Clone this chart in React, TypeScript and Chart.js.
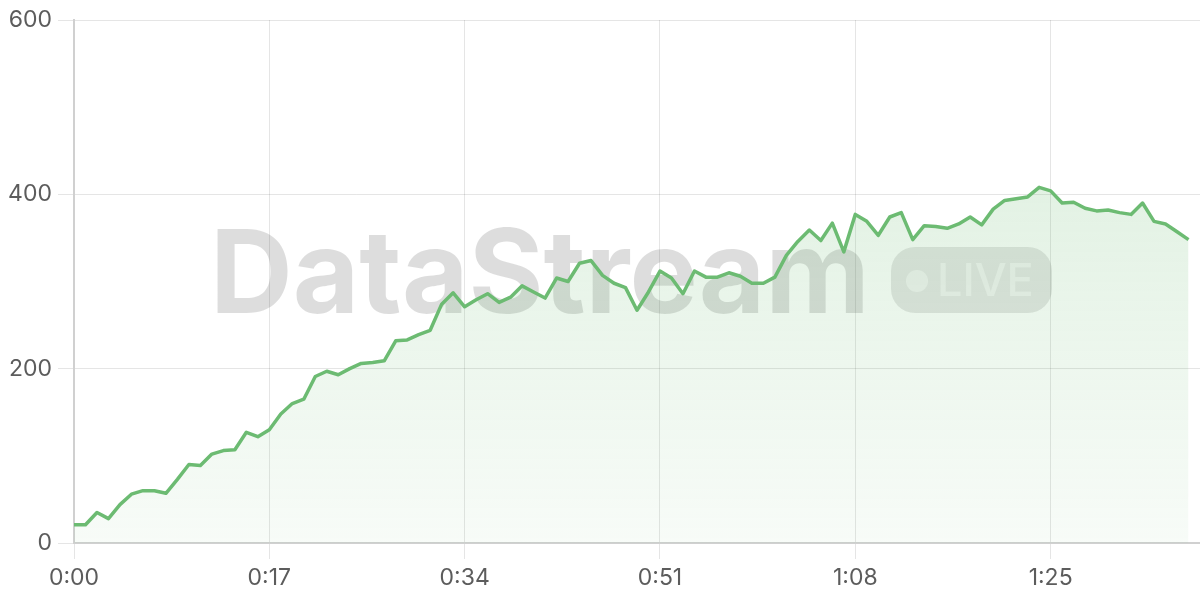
import { useEffect, useRef } from "react";
import { Chart, registerables } from "chart.js";

Chart.register(...registerables);

// one sample per second, 0:00 .. 1:37
const seconds: number[] = Array.from({ length: 98 }, (_, i) => i);
const viewers: number[] = [
  21, 21, 35, 28, 44, 56, 60, 60, 57, 73,
  90, 89, 102, 106, 107, 127, 122, 130, 148, 160,
  165, 191, 197, 193, 200, 206, 207, 209, 232, 233,
  239, 244, 274, 287, 271, 279, 286, 276, 282, 295,
  288, 281, 304, 300, 321, 324, 307, 298, 293, 267,
  288, 312, 304, 286, 312, 305, 305, 310, 306, 298,
  298, 305, 330, 346, 359, 347, 367, 334, 377, 369,
  353, 374, 379, 348, 364, 363, 361, 366, 374, 365,
  383, 393, 395, 397, 408, 404, 390, 391, 384, 381,
  382, 379, 377, 390, 369, 366, 357, 348,
];
const xTickStep = 17;
const yTicks: number[] = [0, 200, 400, 600];

const GREEN = "#6cbb72";
const FONT = "Inter, 'Open Sans', sans-serif";

const fmtTime = (s: number) => `${Math.floor(s / 60)}:${String(s % 60).padStart(2, "0")}`;

const watermark = {
  id: "watermark",
  beforeDatasetsDraw(chart: Chart) {
    const { ctx } = chart;
    ctx.save();
    // "DataStream"
    ctx.font = `700 116px ${FONT}`;
    ctx.fillStyle = "rgba(0,0,0,0.135)";
    ctx.textBaseline = "alphabetic";
    ctx.textAlign = "left";
    const text = "DataStream";
    const target = 660;
    const w0 = ctx.measureText(text).width;
    ctx.translate(210, 313);
    ctx.scale(Math.min(1, target / w0), 1);
    ctx.fillText(text, 0, 0);
    ctx.setTransform(1, 0, 0, 1, 0, 0);
    ctx.restore();
    ctx.save();
    // LIVE pill
    const x = 891, y = 247, w = 161, h = 66, r = 24;
    ctx.beginPath();
    ctx.roundRect(x, y, w, h, r);
    ctx.fillStyle = "rgba(0,0,0,0.1)";
    ctx.fill();
    ctx.fillStyle = "rgba(255,255,255,0.5)";
    ctx.beginPath();
    ctx.arc(917, 281, 11, 0, Math.PI * 2);
    ctx.fill();
    ctx.font = `500 45px ${FONT}`;
    ctx.textAlign = "left";
    ctx.fillText("LIVE", 937, 296);
    ctx.restore();
  },
};

export default function App() {
  const chartRef = useRef<HTMLCanvasElement>(null);
  const chartInstance = useRef<Chart | null>(null);

  useEffect(() => {
    if (!chartRef.current) return;
    if (chartInstance.current) chartInstance.current.destroy();
    const ctx = chartRef.current.getContext("2d");
    if (!ctx) return;

    chartInstance.current = new Chart(ctx, {
      type: "line",
      data: {
        datasets: [{
          data: seconds.map((s, i) => ({ x: s, y: viewers[i] })),
          borderColor: GREEN,
          borderWidth: 3.5,
          pointRadius: 0,
          tension: 0,
          borderJoinStyle: "round",
          fill: "origin",
          backgroundColor: (c: any) => {
            const area = c.chart.chartArea;
            if (!area) return "rgba(108,187,114,0.15)";
            const g = c.chart.ctx.createLinearGradient(0, area.top, 0, area.bottom);
            g.addColorStop(0, "rgba(108,187,114,0.26)");
            g.addColorStop(1, "rgba(108,187,114,0.05)");
            return g;
          },
        }],
      },
      options: {
        animation: false,
        responsive: true,
        maintainAspectRatio: false,
        layout: { padding: { top: 20, right: 0, bottom: 0, left: 0 } },
        plugins: { legend: { display: false }, tooltip: { enabled: false } },
        scales: {
          x: {
            type: "linear",
            min: 0,
            max: 98,
            grid: { color: "rgba(0,0,0,0.1)", tickLength: 16 },
            border: { color: "#d0d0d0", width: 2 },
            afterBuildTicks: (scale: any) => {
              scale.ticks = scale.ticks.filter((t: any) => t.value % xTickStep === 0);
            },
            afterFit: (scale: any) => { scale.height = 57; },
            ticks: {
              stepSize: xTickStep,
              autoSkip: false,
              maxRotation: 0,
              padding: 5,
              color: "#5c5c5c",
              font: { family: FONT, size: 23 },
              callback: (v: any) => fmtTime(Number(v)),
            },
          },
          y: {
            min: 0,
            max: 600,
            grid: { color: "rgba(0,0,0,0.1)", tickLength: 16 },
            border: { color: "#d0d0d0", width: 2 },
            afterBuildTicks: (scale: any) => {
              scale.ticks = yTicks.map((v) => ({ value: v }));
            },
            afterFit: (scale: any) => { scale.width = 74; },
            ticks: {
              padding: 6,
              color: "#5c5c5c",
              font: { family: FONT, size: 23 },
            },
          },
        },
      },
      plugins: [watermark],
    });

    return () => {
      if (chartInstance.current) {
        chartInstance.current.destroy();
        chartInstance.current = null;
      }
    };
  }, []);

  return (
    <div style={{ position: "absolute", left: 0, top: 0, width: 1200, height: 600, background: "#fff" }}>
      <canvas ref={chartRef} />
    </div>
  );
}
